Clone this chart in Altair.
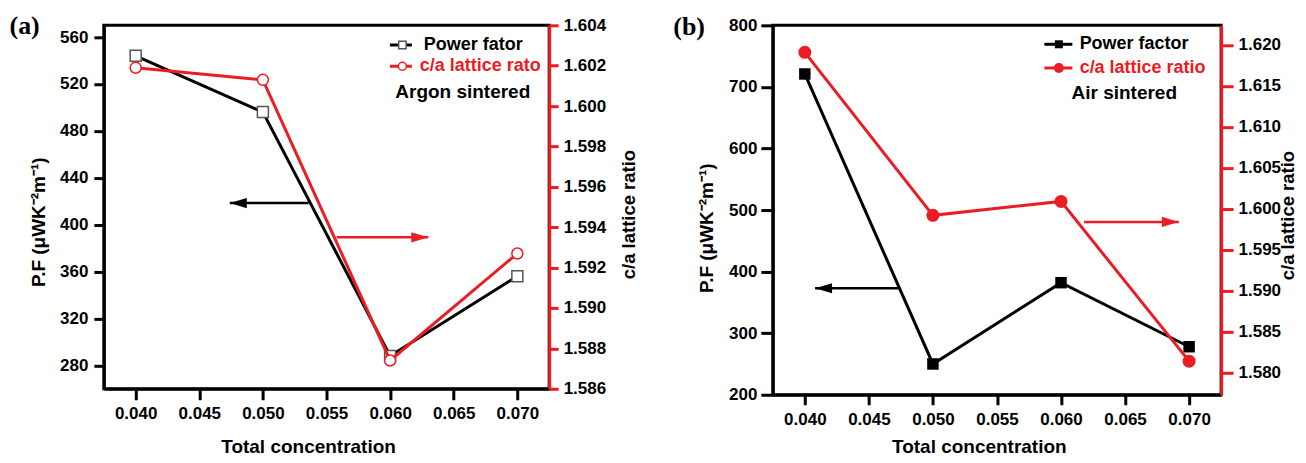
import altair as alt
import pandas as pd

# ---------------- data ----------------
conc = [0.040, 0.050, 0.060, 0.070]

pf_argon = [544, 496, 288, 356]
ca_argon = [1.6019, 1.6013, 1.5874, 1.5927]

pf_air = [721, 250, 382, 278]
ca_air = [1.6191, 1.5992, 1.6009, 1.5814]

x_ticks = [0.040, 0.045, 0.050, 0.055, 0.060, 0.065, 0.070]
pf_ticks_a = [280, 320, 360, 400, 440, 480, 520, 560]
ca_ticks_a = [1.586, 1.588, 1.590, 1.592, 1.594, 1.596, 1.598, 1.600, 1.602, 1.604]
pf_ticks_b = [200, 300, 400, 500, 600, 700, 800]
ca_ticks_b = [1.580, 1.585, 1.590, 1.595, 1.600, 1.605, 1.610, 1.615, 1.620]

# annotation arrows (start, tip) in data units
arrow_a_pf_x = [0.0536, 0.0474]
arrow_a_pf_y = [418.4, 418.4]
arrow_a_ca_x = [0.0558, 0.0630]
arrow_a_ca_y = [1.5935, 1.5935]
arrow_b_pf_x = [0.0474, 0.0408]
arrow_b_pf_y = [373, 373]
arrow_b_ca_x = [0.0618, 0.0692]
arrow_b_ca_y = [1.5984, 1.5984]

FONT = "Liberation Sans"
RED = "#ec1c24"
ARROW_LEFT = "M0 0 L2 -0.6 L2 0.6 Z"
ARROW_RIGHT = "M0 0 L-2 -0.6 L-2 0.6 Z"

dummy = pd.DataFrame({"d": [0]})


def xenc(title_x, title_y, tick_size, label_pad):
    return alt.X(
        "x:Q",
        scale=alt.Scale(domain=[0.0375, 0.0725], nice=False, zero=False),
        axis=alt.Axis(
            values=x_ticks, format=".3f", title="Total concentration",
            titleX=title_x, titleY=title_y, titleAlign="center",
            titleBaseline="alphabetic", titleFont=FONT, titleFontSize=19,
            titleFontWeight="bold", titleColor="black",
            labelFont=FONT, labelFontSize=17, labelFontWeight="bold", labelColor="black",
            labelPadding=label_pad, tickSize=tick_size, tickWidth=3, tickColor="black",
            domainColor="black", domainWidth=3, grid=False,
        ),
    )


def yenc(domain, ticks, fmt, orient, title, title_x, title_y, tick_size, label_pad, color, title_size):
    return alt.Y(
        "v:Q",
        scale=alt.Scale(domain=domain, nice=False, zero=False),
        axis=alt.Axis(
            orient=orient, values=ticks, format=fmt, title=title,
            titleX=title_x, titleY=title_y, titleAngle=270, titleAlign="center",
            titleBaseline="alphabetic", titleFont=FONT, titleFontSize=title_size,
            titleFontWeight="bold", titleColor="black",
            labelFont=FONT, labelFontSize=17, labelFontWeight="bold", labelColor="black",
            labelPadding=label_pad, tickSize=tick_size, tickWidth=3, tickColor=color,
            domainColor=color, domainWidth=3, grid=False,
        ),
    )


def series_layers(xv, yv, X, Y, color, shape, filled, size, stroke, arr_x, arr_y, head):
    df = pd.DataFrame({"x": xv, "v": yv})
    line = alt.Chart(df).mark_line(color=color, strokeWidth=3).encode(x=X, y=Y)
    if filled:
        pts = alt.Chart(df).mark_point(shape=shape, filled=True, size=size, color=color, opacity=1).encode(x=X, y=Y)
    else:
        pts = alt.Chart(df).mark_point(shape=shape, filled=True, size=size, fill="white",
                                       stroke=stroke, strokeWidth=1.5, opacity=1).encode(x=X, y=Y)
    adf = pd.DataFrame({"x": arr_x, "v": arr_y})
    aline = alt.Chart(adf).mark_line(color=color, strokeWidth=2.5).encode(x=X, y=Y)
    ahead = alt.Chart(adf.iloc[[1]]).mark_point(shape=head, filled=True, size=289, color=color, opacity=1).encode(x=X, y=Y)
    return alt.layer(line, pts, aline, ahead)


def legend_layers(lx0, lx1, mx, y1, y2, t1x, t2x, t1, t2, t3, t3x, t3y, sq_kw, ci_kw, label, label_x, label_y):
    out = []
    out.append(alt.Chart(dummy).mark_rule(color="black", strokeWidth=3).encode(
        x=alt.value(lx0), x2=alt.value(lx1), y=alt.value(y1)))
    out.append(alt.Chart(dummy).mark_point(shape="square", **sq_kw).encode(x=alt.value(mx), y=alt.value(y1)))
    out.append(alt.Chart(dummy).mark_rule(color=RED, strokeWidth=3).encode(
        x=alt.value(lx0), x2=alt.value(lx1), y=alt.value(y2)))
    out.append(alt.Chart(dummy).mark_point(shape="circle", **ci_kw).encode(x=alt.value(mx), y=alt.value(y2)))
    out.append(alt.Chart(dummy).mark_text(font=FONT, fontSize=18, fontWeight="bold", color="black",
                                          align="left", baseline="middle").encode(
        x=alt.value(t1x), y=alt.value(y1), text=alt.value(t1)))
    out.append(alt.Chart(dummy).mark_text(font=FONT, fontSize=18, fontWeight="bold", color=RED,
                                          align="left", baseline="middle").encode(
        x=alt.value(t2x), y=alt.value(y2), text=alt.value(t2)))
    out.append(alt.Chart(dummy).mark_text(font=FONT, fontSize=19, fontWeight="bold", color="black",
                                          align="center", baseline="middle").encode(
        x=alt.value(t3x), y=alt.value(t3y), text=alt.value(t3)))
    out.append(alt.Chart(dummy).mark_text(font="Liberation Serif", fontSize=26, fontWeight="bold",
                                          color="black", align="left", baseline="middle").encode(
        x=alt.value(label_x), y=alt.value(label_y), text=alt.value(label)))
    return out


# ---------------- panel (a) ----------------
Xa = xenc(204.5, 64.3, 11, 6)
Ya_l = yenc([260, 570], pf_ticks_a, "d", "left", "P.F (\u03bcWK\u207b\u00b2m\u207b\u00b9)",
            -59, 196.7, 10, 6, "black", 19)
Ya_r = yenc([1.586, 1.604], ca_ticks_a, ".3f", "right", "c/a lattice ratio",
            85, 189, 9, 5, RED, 18.5)

left_a = series_layers(conc, pf_argon, Xa, Ya_l, "black", "square", False, 121, "#555555",
                       arrow_a_pf_x, arrow_a_pf_y, ARROW_LEFT)
right_a = series_layers(conc, ca_argon, Xa, Ya_r, RED, "circle", False, 121, RED,
                        arrow_a_ca_x, arrow_a_ca_y, ARROW_RIGHT)
leg_a = legend_layers(286.5, 308.5, 299, 19.7, 41, 320.5, 316.5,
                      "Power fator", "c/a lattice rato", "Argon sintered", 359.5, 66.7,
                      dict(filled=True, size=56, fill="white", stroke="#555555", strokeWidth=1.5, opacity=1),
                      dict(filled=True, size=64, fill="white", stroke=RED, strokeWidth=1.5, opacity=1),
                      "(a)", -94.5, 0.7)
panel_a = alt.layer(left_a, right_a, *leg_a).resolve_scale(y="independent").properties(width=446, height=364)

# ---------------- panel (b) ----------------
Xb = xenc(206.3, 57.7, 10, 6.7)
Yb_l = yenc([200, 800], pf_ticks_b, "d", "left", "P.F (\u03bcWK\u207b\u00b2m\u207b\u00b9)",
            -60.4, 202.7, 12, 4, "black", 19)
Yb_r = yenc([1.5773, 1.6224], ca_ticks_b, ".3f", "right", "c/a lattice ratio",
            72, 190, 12, 5, RED, 18.5)

left_b = series_layers(conc, pf_air, Xb, Yb_l, "black", "square", True, 132, "black",
                       arrow_b_pf_x, arrow_b_pf_y, ARROW_LEFT)
right_b = series_layers(conc, ca_air, Xb, Yb_r, RED, "circle", True, 169, RED,
                        arrow_b_ca_x, arrow_b_ca_y, ARROW_RIGHT)
leg_b = legend_layers(272, 300, 286.5, 19, 42.7, 307.3, 307.3,
                      "Power factor", "c/a lattice ratio", "Air sintered", 352, 67.7,
                      dict(filled=True, size=64, color="black", opacity=1),
                      dict(filled=True, size=100, color=RED, opacity=1),
                      "(b)", -99.7, 2)
panel_b = alt.layer(left_b, right_b, *leg_b).resolve_scale(y="independent").properties(width=449, height=370)

chart = alt.hconcat(panel_a, panel_b, spacing=224, bounds="flush").properties(
    padding={"left": 0, "top": 3, "right": 0, "bottom": 1},
    background="white",
).configure_view(stroke="black", strokeWidth=3)

chart.save("out.html", embed_options={"renderer": "svg", "actions": False})
